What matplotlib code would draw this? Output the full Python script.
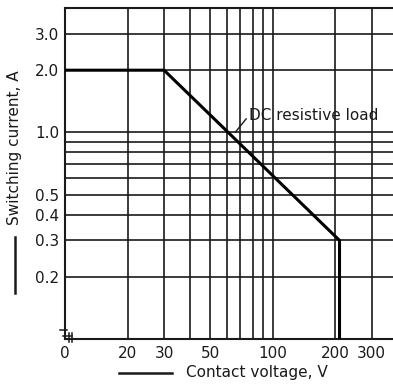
import matplotlib.pyplot as plt
from matplotlib.lines import Line2D

plt.rcParams['font.family'] = ['DejaVu Sans']

# rating curve: DC resistive load
voltage = [10, 30, 210, 210]
current = [2.0, 2.0, 0.3, 0.1]

x_grid = [10, 20, 30, 40, 50, 60, 70, 80, 90, 100, 200, 300]
x_labels = ["0", "20", "30", "", "50", "", "", "", "", "100", "200", "300"]
y_grid = [0.2, 0.3, 0.4, 0.5, 0.6, 0.7, 0.8, 0.9, 1.0, 2.0, 3.0]
y_labels = ["0.2", "0.3", "0.4", "0.5", "", "", "", "", "1.0", "2.0", "3.0"]

ink = "#1a1a1a"

fig = plt.figure(figsize=(3.93, 3.84), dpi=100)
ax = fig.add_axes([65 / 393, 1 - 339 / 384, 328 / 393, 331 / 384])

ax.set_xscale("log")
ax.set_yscale("log")
ax.set_xlim(10, 380)
ax.set_ylim(0.1, 4.0)

ax.set_xticks(x_grid)
ax.set_xticklabels(x_labels)
ax.set_yticks(y_grid)
ax.set_yticklabels(y_labels)
ax.minorticks_off()
ax.tick_params(length=0, labelsize=11, colors=ink)
ax.tick_params(axis="x", pad=5)
ax.tick_params(axis="y", pad=4)

ax.grid(True, color=ink, lw=1.2)
ax.set_axisbelow(True)
for side in ["left", "bottom", "top"]:
    ax.spines[side].set_color(ink)
    ax.spines[side].set_linewidth(1.5)
ax.spines["right"].set_visible(False)

ax.plot(voltage, current, color="black", lw=2.2, solid_joinstyle="miter", zorder=3)

ax.annotate("DC resistive load", xy=(66, 1.0), xytext=(77, 1.21),
            ha="left", va="center", fontsize=11, color=ink,
            arrowprops=dict(arrowstyle="-", color=ink, lw=1.0, shrinkA=0, shrinkB=0,
                            relpos=(0, 0.5)))

# axis break mark at the origin
brk = dict(transform=ax.transAxes, color=ink, lw=1.1, clip_on=False)
ax.plot([-0.015, 0.006], [0.027, 0.027], **brk)
ax.plot([-0.006, 0.021], [0.009, 0.009], **brk)
ax.plot([0.012, 0.012], [0.018, -0.009], **brk)
ax.plot([0.021, 0.021], [0.018, -0.009], **brk)

# axis titles with leading dash
fig.text(257 / 393, 1 - 373 / 384, "Contact voltage, V", ha="center", va="center",
         fontsize=11, color=ink)
fig.add_artist(Line2D([119 / 393, 172 / 393], [1 - 373 / 384, 1 - 373 / 384],
                      color=ink, lw=1.8))
fig.text(15 / 393, 1 - 148 / 384, "Switching current, A", ha="center", va="center",
         rotation=90, fontsize=11, color=ink)
fig.add_artist(Line2D([15 / 393, 15 / 393], [1 - 237 / 384, 1 - 293 / 384],
                      color=ink, lw=1.8))

fig.savefig("out.png", dpi=100)
